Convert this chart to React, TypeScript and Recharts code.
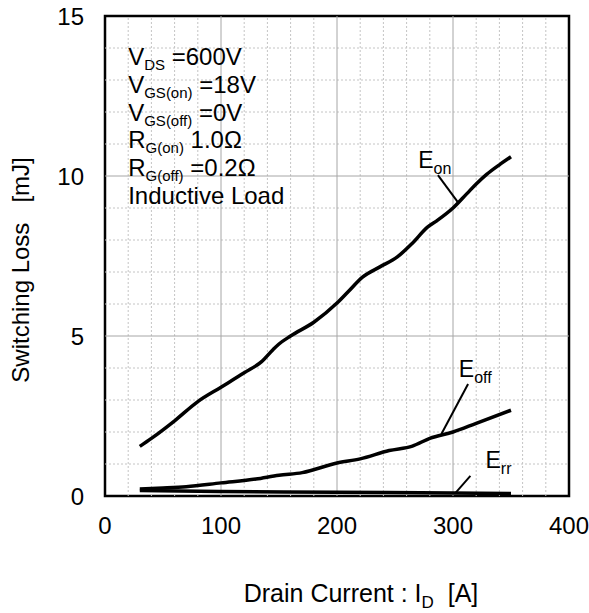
import React from "react";
import {
  ComposedChart,
  Line,
  XAxis,
  YAxis,
  ReferenceLine,
  ReferenceArea,
  Scatter,
} from "recharts";

const FONT = '"Liberation Sans", Arial, Helvetica, sans-serif';

// E_on
const eonCurrent = [30, 40, 60, 80, 100, 120, 135, 145, 150, 160, 180, 200, 210, 222, 237, 252, 265, 278, 286, 300, 312, 320, 329, 340, 350];
const eonLoss = [1.55, 1.8, 2.35, 2.95, 3.4, 3.85, 4.2, 4.58, 4.75, 5.0, 5.43, 6.03, 6.4, 6.84, 7.16, 7.47, 7.9, 8.4, 8.6, 9.0, 9.45, 9.75, 10.05, 10.35, 10.6];

// E_off
const eoffCurrent = [30, 50, 70, 100, 130, 150, 170, 200, 220, 245, 265, 280, 300, 320, 350];
const eoffLoss = [0.22, 0.25, 0.29, 0.41, 0.53, 0.65, 0.73, 1.03, 1.16, 1.42, 1.56, 1.8, 2.0, 2.27, 2.68];

// E_rr
const errCurrent = [30, 100, 200, 300, 350];
const errLoss = [0.17, 0.14, 0.12, 0.09, 0.08];

const xTicks = [0, 100, 200, 300, 400];
const yTicks = [0, 5, 10, 15];
const majorX = [100, 200, 300];
const minorX = [20, 40, 60, 80, 120, 140, 160, 180, 220, 240, 260, 280, 320, 340, 360, 380];
const majorY = [5, 10];
const minorY = [1, 2, 3, 4, 6, 7, 8, 9, 11, 12, 13, 14];

const conditions = [
  { main: "V", sub: "DS", rest: "\u00a0=600V" },
  { main: "V", sub: "GS(on)", rest: "\u00a0=18V" },
  { main: "V", sub: "GS(off)", rest: "\u00a0=0V" },
  { main: "R", sub: "G(on)", rest: "\u00a01.0Ω" },
  { main: "R", sub: "G(off)", rest: "\u00a0=0.2Ω" },
  { main: "Inductive Load", sub: "", rest: "" },
];

// curve labels, anchored in data units (current, loss)
const curveLabels = [
  { x: 270, y: 10.25, main: "E", sub: "on" },
  { x: 305, y: 3.72, main: "E", sub: "off" },
  { x: 328, y: 0.87, main: "E", sub: "rr" },
];
const leaders = [
  [{ x: 287, y: 10.03 }, { x: 304, y: 9.19 }],
  [{ x: 313, y: 3.5 }, { x: 290, y: 1.94 }],
  [{ x: 315, y: 0.63 }, { x: 302, y: 0.09 }],
];

const zip = (xs: number[], ys: number[]) => xs.map((x, i) => ({ x, y: ys[i] }));
const eonData = zip(eonCurrent, eonLoss);
const eoffData = zip(eoffCurrent, eoffLoss);
const errData = zip(errCurrent, errLoss);

// legend box anchor (top-left text baseline) in data units
const boxAnchor = [{ x: 20, y: 13.47 }];

const XTick = (props: any) => (
  <text x={props.x} y={props.y} dy={38} textAnchor="middle" fontSize={24} fontFamily={FONT} fill="#000">
    {props.payload.value}
  </text>
);

const YTick = (props: any) => (
  <text x={props.x - 21} y={props.y} dy={8.5} textAnchor="end" fontSize={24} fontFamily={FONT} fill="#000">
    {props.payload.value}
  </text>
);

const CurveLabel = (props: any) => {
  const { cx, cy, payload } = props;
  return (
    <text x={cx} y={cy} fontSize={23} fontFamily={FONT} fill="#000">
      {payload.main}
      <tspan fontSize={16} dy={6}>{payload.sub}</tspan>
    </text>
  );
};

const ConditionBox = (props: any) => {
  const { cx, cy } = props;
  return (
    <g>
      {conditions.map((c, i) => (
        <text key={i} x={cx} y={cy + i * 27.8} fontSize={24} fontFamily={FONT} fill="#000">
          {c.main}
          {c.sub && (
            <tspan fontSize={15} dy={5}>
              {c.sub}
            </tspan>
          )}
          {c.rest && <tspan dy={-5}>{c.rest}</tspan>}
        </text>
      ))}
    </g>
  );
};

export default function App() {
  return (
    <div style={{ position: "absolute", left: 0, top: 0, background: "#fff" }}>
      <ComposedChart width={589} height={613} margin={{ top: 16, right: 20, bottom: 0, left: 0 }}>
        <XAxis
          type="number"
          dataKey="x"
          domain={[0, 400]}
          ticks={xTicks}
          tick={<XTick />}
          tickSize={0}
          tickMargin={0}
          axisLine={false}
          tickLine={false}
          height={117}
          allowDataOverflow
        />
        <YAxis
          type="number"
          dataKey="y"
          domain={[0, 15]}
          ticks={yTicks}
          tick={<YTick />}
          tickSize={0}
          tickMargin={0}
          axisLine={false}
          tickLine={false}
          width={105}
          allowDataOverflow
        />

        {minorX.map((v) => (
          <ReferenceLine key={"mx" + v} x={v} stroke="#c4c4c4" strokeDasharray="2 2" strokeWidth={1} />
        ))}
        {minorY.map((v) => (
          <ReferenceLine key={"my" + v} y={v} stroke="#c4c4c4" strokeDasharray="2 2" strokeWidth={1} />
        ))}
        {majorX.map((v) => (
          <ReferenceLine key={"Mx" + v} x={v} stroke="#a6a6a6" strokeWidth={1} />
        ))}
        {majorY.map((v) => (
          <ReferenceLine key={"My" + v} y={v} stroke="#a6a6a6" strokeWidth={1} />
        ))}

        <ReferenceArea x1={17} x2={160} y1={8.8} y2={14.4} fill="#fff" fillOpacity={1} stroke="none" />

        {leaders.map((seg, i) => (
          <ReferenceLine key={"ld" + i} segment={seg} stroke="#000" strokeWidth={2} />
        ))}

        <Line data={errData} dataKey="y" type="monotone" stroke="#000" strokeWidth={3.5} dot={false} activeDot={false} isAnimationActive={false} />
        <Line data={eoffData} dataKey="y" type="monotone" stroke="#000" strokeWidth={3.5} dot={false} activeDot={false} isAnimationActive={false} />
        <Line data={eonData} dataKey="y" type="monotone" stroke="#000" strokeWidth={3.5} dot={false} activeDot={false} isAnimationActive={false} />

        <Scatter data={curveLabels} dataKey="y" shape={<CurveLabel />} isAnimationActive={false} />
        <Scatter data={boxAnchor} dataKey="y" shape={<ConditionBox />} isAnimationActive={false} />

        <ReferenceArea x1={0} x2={400} y1={0} y2={15} fill="none" stroke="#000" strokeWidth={2.5} ifOverflow="visible" />

        <text x={29} y={270} transform="rotate(-90 29 270)" textAnchor="middle" fontSize={24} fontFamily={FONT} fill="#000">
          {"Switching Loss\u00a0\u00a0\u00a0[mJ]"}
        </text>
        <text x={361} y={602} textAnchor="middle" fontSize={25} fontFamily={FONT} fill="#000">
          {"Drain Current : I"}
          <tspan fontSize={17} dy={6}>D</tspan>
          <tspan dy={-6}>{"\u00a0\u00a0[A]"}</tspan>
        </text>
      </ComposedChart>
    </div>
  );
}
